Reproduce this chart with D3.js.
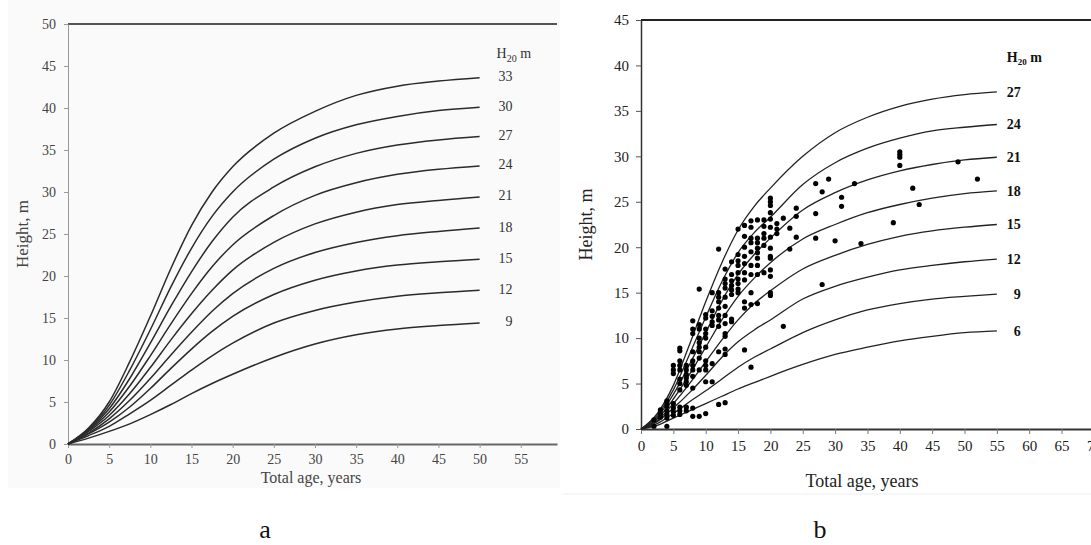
<!DOCTYPE html>
<html>
<head>
<meta charset="utf-8">
<script src="https://cdn.jsdelivr.net/npm/d3@7"></script>
<style>
  body { margin: 0; background: #fff; }
  svg { display: block; font-family: "Liberation Serif", "DejaVu Serif", serif; }
</style>
</head>
<body>
<svg id="chart" width="1091" height="545"></svg>
<script>
// panel a: height curves by H20 class
const agesA = [0, 2.5, 5, 7.5, 10, 12.5, 15, 17.5, 20, 25, 30, 35, 40, 45, 50];
const classesA = [33, 30, 27, 24, 21, 18, 15, 12, 9];
const curvesA = [
  [0, 1.9, 5.0, 9.8, 15.2, 20.9, 26.0, 30.0, 33.0, 37.0, 39.6, 41.5, 42.6, 43.2, 43.6],
  [0, 1.8, 4.6, 8.8, 13.6, 18.7, 23.3, 27.1, 30.0, 33.9, 36.4, 38.0, 39.0, 39.7, 40.1],
  [0, 1.7, 4.2, 7.8, 12.0, 16.4, 20.5, 24.1, 27.0, 30.6, 33.0, 34.6, 35.6, 36.2, 36.6],
  [0, 1.6, 3.8, 6.9, 10.5, 14.3, 17.9, 21.1, 23.7, 27.2, 29.6, 31.1, 32.1, 32.7, 33.1],
  [0, 1.5, 3.4, 6.0, 9.1, 12.4, 15.5, 18.3, 20.7, 24.0, 26.2, 27.6, 28.5, 29.0, 29.4],
  [0, 1.3, 3.0, 5.2, 7.8, 10.6, 13.3, 15.8, 17.9, 20.9, 22.8, 24.0, 24.8, 25.3, 25.7],
  [0, 1.2, 2.6, 4.4, 6.6, 9.0, 11.3, 13.4, 15.2, 17.8, 19.5, 20.6, 21.3, 21.7, 22.0],
  [0, 1.0, 2.1, 3.6, 5.2, 7.0, 8.8, 10.5, 12.0, 14.4, 15.9, 16.9, 17.6, 18.0, 18.3],
  [0, 0.7, 1.5, 2.4, 3.5, 4.7, 6.0, 7.2, 8.3, 10.3, 11.9, 13.0, 13.7, 14.1, 14.4]
];

// panel b: curves + measured trees
const agesB = [0, 2.5, 5, 7.5, 10, 12.5, 15, 17.5, 20, 25, 30, 35, 40, 45, 50, 55];
const classesB = [27, 24, 21, 18, 15, 12, 9, 6];
const curvesB = [
  [0, 1.7, 4.8, 9.3, 14.0, 18.3, 21.9, 24.5, 26.5, 30.0, 32.6, 34.3, 35.5, 36.3, 36.8, 37.1],
  [0, 1.5, 4.3, 8.2, 12.3, 16.2, 19.4, 21.6, 23.3, 26.9, 29.3, 30.9, 32.0, 32.8, 33.2, 33.5],
  [0, 1.3, 3.8, 7.1, 10.6, 14.1, 17.0, 19.2, 21.0, 24.1, 26.0, 27.4, 28.4, 29.1, 29.6, 29.9],
  [0, 1.1, 3.3, 6.0, 9.0, 12.0, 14.6, 16.6, 18.3, 20.9, 22.5, 23.8, 24.7, 25.4, 25.9, 26.2],
  [0, 0.9, 2.8, 5.0, 7.4, 9.8, 12.0, 13.8, 15.2, 17.6, 19.1, 20.3, 21.2, 21.8, 22.2, 22.5],
  [0, 0.8, 2.3, 4.0, 5.9, 7.9, 9.6, 10.9, 12.0, 14.3, 15.7, 16.7, 17.5, 18.0, 18.4, 18.7],
  [0, 0.6, 1.7, 3.0, 4.2, 5.5, 6.8, 7.9, 8.8, 10.6, 12.0, 13.1, 13.8, 14.3, 14.6, 14.85],
  [0, 0.4, 1.2, 2.0, 2.8, 3.6, 4.4, 5.1, 5.8, 7.1, 8.2, 9.0, 9.7, 10.2, 10.6, 10.8]
];
const treeAges = [2, 3, 4, 5, 6, 7, 8, 9, 10, 11, 12, 13, 14, 15, 16, 17, 18, 19, 20,
  21, 22, 23, 24, 27, 28, 29, 30, 31, 33, 34, 39, 40, 42, 43, 49, 52];
const treeHeights = [
  [0.3, 1.0],
  [1.3, 1.7, 2.1],
  [0.3, 1.2, 1.6, 2.0, 2.5, 2.9, 3.1],
  [7.0, 6.5, 6.1, 2.8, 2.3, 1.9, 1.5],
  [8.9, 8.6, 7.5, 7.0, 6.5, 5.5, 5.0, 4.3, 2.4, 2.0, 1.6],
  [7.0, 6.5, 6.0, 5.6, 5.2, 4.8, 2.4, 2.0],
  [11.9, 11.0, 10.5, 8.5, 7.5, 7.0, 6.5, 5.8, 4.5, 2.3, 1.4],
  [15.4, 11.5, 11.0, 10.0, 9.5, 9.0, 8.5, 7.8, 6.5, 1.4],
  [12.6, 12.2, 11.0, 10.5, 10.0, 9.0, 7.5, 7.0, 6.5, 5.2, 1.7],
  [15.0, 13.0, 12.4, 11.8, 11.4, 7.2, 5.2],
  [19.8, 15.0, 14.5, 14.0, 13.3, 12.5, 12.0, 11.3, 8.5, 2.7],
  [17.6, 16.5, 16.0, 15.5, 14.5, 13.5, 12.5, 11.6, 10.5, 10.2, 8.8, 8.2, 2.9],
  [18.4, 17.0, 16.3, 15.8, 15.3, 14.8, 12.1, 11.8],
  [22.0, 19.2, 18.5, 18.0, 17.2, 16.5, 16.0, 15.4, 15.0],
  [22.4, 21.2, 20.0, 19.0, 18.2, 17.2, 16.4, 14.0, 13.3, 8.7],
  [22.9, 22.2, 21.0, 20.5, 19.5, 18.0, 17.0, 15.0, 13.7, 6.8],
  [23.0, 21.0, 20.5, 19.9, 19.4, 18.8, 18.0, 17.0, 13.8],
  [23.0, 22.3, 21.5, 21.0, 20.2, 17.2],
  [25.4, 25.0, 24.6, 23.8, 23.1, 22.2, 21.1, 19.9, 19.0, 18.8, 17.5, 16.8, 15.0, 14.7],
  [22.6, 22.0, 21.5],
  [23.2, 11.3],
  [22.1, 19.8],
  [24.3, 23.4, 21.1],
  [27.0, 23.7, 21.0],
  [26.1, 15.9],
  [27.5],
  [20.7],
  [25.5, 24.5],
  [27.0],
  [20.4],
  [22.7],
  [30.5, 30.2, 29.9, 29.0],
  [26.5],
  [24.7],
  [29.4],
  [27.5]
];
const ticksA_x = d3.range(0, 60, 5);
const ticksA_y = d3.range(0, 55, 5);
const ticksB_x = d3.range(0, 80, 5);
const ticksB_y = d3.range(0, 50, 5);

const svg = d3.select("#chart");

// faint scan backgrounds
svg.append("rect").attr("x", 8).attr("y", 0).attr("width", 552).attr("height", 488).attr("fill", "#fafafa");
svg.append("line").attr("x1", 563).attr("x2", 1091).attr("y1", 494).attr("y2", 494)
  .attr("stroke", "#eee").attr("stroke-width", 1);

// ---------- panel a ----------
const xA = d3.scaleLinear().domain([0, 59.4]).range([68, 557]);
const yA = d3.scaleLinear().domain([0, 50]).range([444, 24]);
const gA = svg.append("g");

gA.append("line").attr("x1", xA(0)).attr("x2", xA(59.4)).attr("y1", yA(50)).attr("y2", yA(50))
  .attr("stroke", "#555").attr("stroke-width", 1.8);

const axYA = gA.append("g").attr("transform", `translate(${xA(0)},0)`)
  .call(d3.axisLeft(yA).tickValues(ticksA_y).tickSize(4).tickSizeOuter(0).tickPadding(8));
axYA.select(".domain").attr("stroke", "#999").attr("stroke-width", 1);
axYA.selectAll(".tick line").attr("stroke", "#999");
axYA.selectAll("text").attr("font-size", 14).attr("fill", "#444").attr("font-family", "Liberation Serif");

const axXA = gA.append("g").attr("transform", `translate(0,${yA(0)})`)
  .call(d3.axisBottom(xA).tickValues(ticksA_x).tickSize(4).tickSizeOuter(0).tickPadding(6));
axXA.select(".domain").attr("stroke", "#666").attr("stroke-width", 1.8);
axXA.selectAll(".tick line").attr("stroke", "#999");
axXA.selectAll("text").attr("font-size", 14).attr("fill", "#444").attr("font-family", "Liberation Serif");

const lineA = d3.line().x((d, i) => xA(agesA[i])).y(d => yA(d)).curve(d3.curveMonotoneX);
gA.selectAll(".curveA").data(curvesA).enter().append("path")
  .attr("class", "curveA")
  .attr("d", lineA)
  .attr("fill", "none").attr("stroke", "#2b2b2b").attr("stroke-width", 1.5);

gA.selectAll(".labA").data(curvesA).enter().append("text")
  .attr("class", "labA")
  .attr("x", xA(50) + 33).attr("y", d => yA(d[d.length - 1]) - 1.5)
  .attr("dy", "0.35em").attr("text-anchor", "end")
  .attr("font-size", 14).attr("fill", "#333")
  .text((d, i) => classesA[i]);

const hA = gA.append("text").attr("x", xA(50) + 17).attr("y", 58).attr("font-size", 14).attr("fill", "#333");
hA.append("tspan").text("H");
hA.append("tspan").attr("font-size", 10).attr("dy", 4).text("20");
hA.append("tspan").attr("dy", -4).text(" m");

gA.append("text").attr("transform", `translate(22,${(yA(0) + yA(50)) / 2}) rotate(-90)`)
  .attr("text-anchor", "middle").attr("dy", "0.35em").attr("font-size", 17).attr("fill", "#444")
  .text("Height, m");
gA.append("text").attr("x", 311).attr("y", 483).attr("text-anchor", "middle")
  .attr("font-size", 16).attr("fill", "#444").text("Total age, years");

// ---------- panel b ----------
const xB = d3.scaleLinear().domain([0, 75]).range([641, 641 + 6.47 * 75]);
const yB = d3.scaleLinear().domain([0, 45]).range([429, 20]);
const gB = svg.append("g");

gB.append("line").attr("x1", xB(0)).attr("x2", 1091).attr("y1", yB(45)).attr("y2", yB(45))
  .attr("stroke", "#222").attr("stroke-width", 2);

const axYB = gB.append("g").attr("transform", `translate(${xB(0)},0)`)
  .call(d3.axisLeft(yB).tickValues(ticksB_y).tickSize(5).tickSizeOuter(0).tickPadding(7));
axYB.select(".domain").attr("stroke", "#333").attr("stroke-width", 1.5);
axYB.selectAll(".tick line").attr("stroke", "#555");
axYB.selectAll("text").attr("font-size", 15).attr("fill", "#222").attr("font-family", "Liberation Serif");

const axXB = gB.append("g").attr("transform", `translate(0,${yB(0)})`)
  .call(d3.axisBottom(xB).tickValues(ticksB_x).tickSize(5).tickSizeOuter(0).tickPadding(6));
axXB.select(".domain").attr("stroke", "#333").attr("stroke-width", 2);
axXB.selectAll(".tick line").attr("stroke", "#777");
axXB.selectAll("text").attr("font-size", 15).attr("fill", "#222").attr("font-family", "Liberation Serif");

const lineB = d3.line().x((d, i) => xB(agesB[i])).y(d => yB(d)).curve(d3.curveMonotoneX);
gB.selectAll(".curveB").data(curvesB).enter().append("path")
  .attr("class", "curveB")
  .attr("d", lineB)
  .attr("fill", "none").attr("stroke", "#222").attr("stroke-width", 1.3);

const trees = [];
treeAges.forEach((a, i) => treeHeights[i].forEach(h => trees.push({age: a, h: h})));
gB.selectAll(".tree").data(trees).enter().append("circle")
  .attr("class", "tree")
  .attr("cx", d => xB(d.age)).attr("cy", d => yB(d.h))
  .attr("r", 2.6).attr("fill", "#000");

gB.selectAll(".labB").data(curvesB).enter().append("text")
  .attr("class", "labB")
  .attr("x", xB(55) + 24).attr("y", d => yB(d[d.length - 1]))
  .attr("dy", "0.35em").attr("text-anchor", "end")
  .attr("font-size", 14).attr("font-weight", "bold").attr("fill", "#111")
  .text((d, i) => classesB[i]);

const hB = gB.append("text").attr("x", xB(55) + 10).attr("y", 62)
  .attr("font-size", 14).attr("font-weight", "bold").attr("fill", "#111");
hB.append("tspan").text("H");
hB.append("tspan").attr("font-size", 9).attr("dy", 3).text("20");
hB.append("tspan").attr("dy", -3).text(" m");

gB.append("text").attr("transform", `translate(586,${(yB(0) + yB(45)) / 2}) rotate(-90)`)
  .attr("text-anchor", "middle").attr("dy", "0.35em").attr("font-size", 18).attr("fill", "#222")
  .text("Height, m");
gB.append("text").attr("x", 862).attr("y", 487).attr("text-anchor", "middle")
  .attr("font-size", 18).attr("fill", "#222").text("Total age, years");

// panel letters
svg.append("text").attr("x", 265).attr("y", 538).attr("text-anchor", "middle")
  .attr("font-size", 26).attr("fill", "#111").text("a");
svg.append("text").attr("x", 820).attr("y", 538).attr("text-anchor", "middle")
  .attr("font-size", 26).attr("fill", "#111").text("b");
</script>
</body>
</html>
